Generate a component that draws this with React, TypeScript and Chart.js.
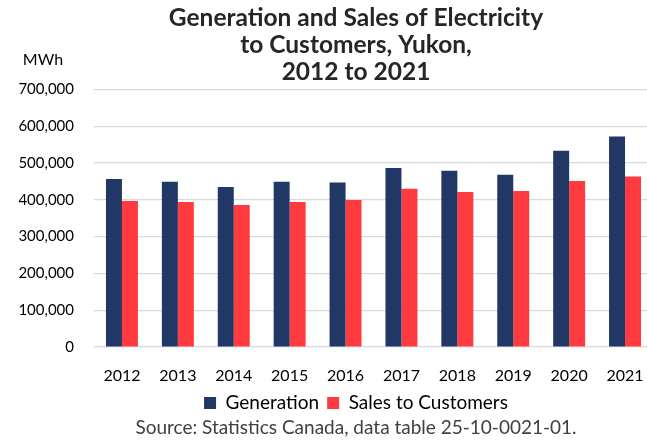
import React, { useEffect, useRef } from "react";
import { Chart, registerables } from "chart.js";

Chart.register(...registerables);

const categories = ["2012", "2013", "2014", "2015", "2016", "2017", "2018", "2019", "2020", "2021"];
const generation = [456500, 449000, 435000, 449000, 447000, 486000, 479000, 468000, 533000, 572000];
const sales = [396700, 394000, 386000, 394000, 399500, 430000, 421000, 424000, 451000, 463000];
const seriesNames = ["Generation", "Sales to Customers"];
const titleLines = ["Generation and Sales of Electricity", "to Customers, Yukon,", "2012 to 2021"];
const sourceText = "Source: Statistics Canada, data table 25-10-0021-01.";
const unitLabel = "MWh";
const yMax = 700000;
const yStep = 100000;

const FONT = "Lato, 'Open Sans', sans-serif";
const CANVAS_W = 712;
const CANVAS_H = 442;

const unitPlugin = {
  id: "unitLabel",
  afterDraw(chart: any) {
    const ctx = chart.ctx;
    ctx.save();
    ctx.font = `16px ${FONT}`;
    ctx.fillStyle = "#000000";
    ctx.textAlign = "center";
    ctx.textBaseline = "middle";
    ctx.fillText(unitLabel, 43, 60);
    ctx.restore();
  },
};

export default function App() {
  const ref = useRef<HTMLCanvasElement>(null);
  useEffect(() => {
    if (!ref.current) return;
    const chart = new Chart(ref.current, {
      type: "bar",
      data: {
        labels: categories,
        datasets: [
          {
            label: seriesNames[0],
            data: generation,
            backgroundColor: "#213766",
            categoryPercentage: 0.572,
            barPercentage: 1,
            yAxisID: "y",
          },
          {
            label: seriesNames[1],
            data: sales,
            backgroundColor: "#FF3B3F",
            categoryPercentage: 0.572,
            barPercentage: 1,
            yAxisID: "y",
          },
        ],
      },
      options: {
        responsive: false,
        animation: false,
        devicePixelRatio: 1,
        layout: { padding: 0 },
        scales: {
          x: {
            afterFit(scale: any) {
              scale.height = 38.6;
            },
            grid: { display: false, drawTicks: false },
            border: { display: false },
            ticks: {
              color: "#000000",
              font: { family: FONT, size: 16 },
              padding: 19.4,
              maxRotation: 0,
            },
          },
          y: {
            position: "left",
            min: 0,
            max: yMax,
            afterFit(scale: any) {
              scale.width = 94;
            },
            grid: { color: "#d9d9d9", lineWidth: 1.2, drawTicks: false },
            border: { display: false },
            ticks: {
              stepSize: yStep,
              color: "#000000",
              font: { family: FONT, size: 15 },
              padding: 20,
              callback: (v: any) => Number(v).toLocaleString("en-US"),
            },
          },
          yR: {
            position: "right",
            min: 0,
            max: yMax,
            afterFit(scale: any) {
              scale.width = 59;
            },
            grid: { display: false, drawTicks: false },
            border: { display: false },
            ticks: { display: false },
          },
        },
        plugins: {
          title: {
            display: true,
            text: titleLines,
            color: "#262626",
            font: { family: FONT, size: 24.5, weight: "bold", lineHeight: 1.1 },
            padding: { top: 4.5, bottom: 4 },
          },
          subtitle: {
            display: true,
            position: "bottom",
            text: sourceText,
            color: "#404040",
            font: { family: FONT, size: 19 },
            padding: { top: 2, bottom: 2.6 },
          },
          legend: {
            position: "bottom",
            maxHeight: 29,
            labels: {
              color: "#000000",
              font: { family: FONT, size: 19 },
              boxWidth: 12,
              boxHeight: 12,
              padding: 8,
            },
          },
          tooltip: { enabled: false },
        },
      },
      plugins: [unitPlugin],
    });
    return () => chart.destroy();
  }, []);
  return (
    <div style={{ position: "fixed", left: 0, top: 0, width: 647, height: 442, overflow: "hidden", background: "#fff" }}>
      <canvas ref={ref} width={CANVAS_W} height={CANVAS_H} style={{ display: "block" }} />
    </div>
  );
}
